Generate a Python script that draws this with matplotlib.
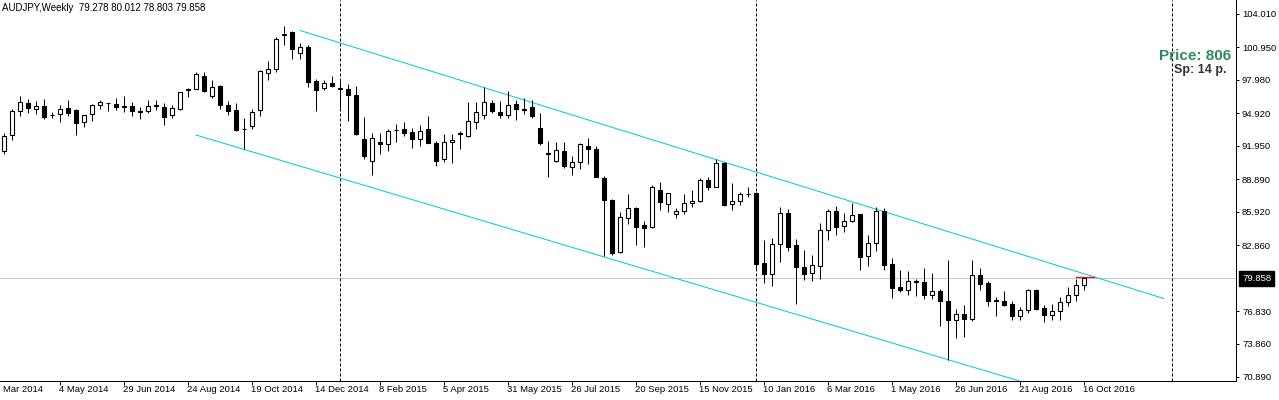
import numpy as np
import matplotlib
matplotlib.use("Agg")
import matplotlib.pyplot as plt
import matplotlib.transforms as mtransforms

plt.rcParams['font.family'] = ['Liberation Sans', 'DejaVu Sans']

# weekly AUDJPY candles, first visible bar = week of 16 Mar 2014
opens = [91.49, 92.97, 95.11, 95.84, 95.35, 95.56, 94.74, 94.84, 95.38, 95.23,
         94.11, 94.84, 95.66, 95.87, 95.75, 95.56, 95.56, 95.14, 95.14, 95.66,
         95.47, 94.74, 95.29, 97.05, 97.12, 98.31, 96.53, 97.42, 95.66, 95.23,
         93.47, 93.80, 95.20, 98.58, 99.00, 102.08, 102.35, 100.46, 100.98, 97.88,
         97.26, 97.67, 97.21, 97.12, 96.57, 92.55, 90.60, 92.31, 92.10, 93.37,
         93.49, 93.22, 92.55, 93.49, 92.22, 90.72, 92.28, 93.10, 92.88, 94.11,
         94.74, 95.84, 95.02, 94.74, 95.78, 95.29, 95.50, 93.58, 91.27, 90.60,
         91.49, 89.99, 90.51, 91.98, 91.67, 88.99, 87.01, 82.23, 85.34, 86.28,
         84.70, 84.54, 87.92, 86.62, 85.70, 85.98, 86.71, 86.89, 88.81, 88.22,
         90.39, 86.62, 86.89, 87.58, 87.65, 81.23, 80.22, 82.96, 85.82, 82.87,
         80.89, 80.31, 81.01, 84.24, 85.98, 84.61, 85.06, 85.73, 81.86, 83.05,
         86.00, 81.14, 79.06, 78.76, 79.58, 79.49, 78.36, 78.67, 77.76, 76.02,
         76.57, 76.11, 80.13, 79.40, 77.85, 77.76, 77.48, 76.44, 76.94, 78.79,
         77.15, 76.53, 76.84, 77.67, 78.30, 79.278]
highs = [93.15, 95.29, 96.51, 96.23, 96.05, 96.23, 95.04, 95.66, 96.14, 95.29,
         94.76, 95.78, 96.14, 95.90, 96.30, 96.48, 95.96, 95.47, 96.14, 96.14,
         95.84, 95.68, 96.86, 97.24, 98.70, 98.70, 97.97, 97.51, 96.05, 95.87,
         94.50, 95.32, 98.88, 99.70, 101.92, 102.87, 102.44, 101.37, 101.14, 98.03,
         97.97, 98.33, 97.85, 97.60, 97.39, 94.59, 93.13, 93.13, 93.49, 93.95,
         94.13, 93.58, 93.86, 94.68, 92.40, 93.04, 93.04, 93.31, 95.96, 95.96,
         97.33, 96.14, 96.05, 96.96, 96.14, 96.32, 96.14, 94.95, 92.42, 92.33,
         92.31, 91.03, 92.24, 92.64, 91.91, 89.17, 87.13, 85.89, 87.56, 86.34,
         85.09, 88.41, 88.68, 87.68, 86.28, 87.53, 87.92, 88.99, 89.08, 90.75,
         90.48, 88.53, 87.74, 88.17, 87.71, 83.36, 83.51, 86.37, 86.19, 83.45,
         82.44, 81.99, 84.94, 86.19, 86.43, 85.79, 86.76, 85.75, 83.78, 86.37,
         86.28, 81.71, 80.59, 80.50, 79.77, 80.80, 80.34, 78.85, 81.53, 77.05,
         77.39, 81.53, 80.77, 79.58, 78.15, 78.70, 77.76, 77.24, 78.88, 78.88,
         77.39, 77.48, 78.15, 79.06, 79.79, 80.012]
lows = [91.21, 92.49, 94.71, 94.98, 94.86, 94.43, 94.50, 94.16, 94.71, 92.97,
        93.65, 94.25, 95.35, 95.16, 95.23, 95.07, 94.71, 94.38, 94.92, 95.26,
        93.88, 94.50, 95.23, 96.44, 97.10, 96.90, 96.35, 95.32, 94.77, 93.34,
        91.64, 93.52, 94.71, 97.99, 98.72, 101.19, 99.89, 99.89, 97.36, 95.16,
        97.05, 97.30, 95.44, 94.25, 92.97, 90.75, 89.32, 91.24, 91.51, 92.33,
        92.88, 91.76, 91.97, 92.22, 90.14, 90.50, 90.41, 91.69, 92.79, 93.52,
        94.43, 94.92, 94.52, 94.52, 94.34, 94.89, 94.52, 92.06, 89.14, 90.50,
        89.90, 89.32, 89.87, 90.32, 89.12, 81.89, 82.01, 82.17, 84.84, 82.90,
        82.74, 84.48, 86.10, 85.94, 85.36, 85.76, 86.40, 86.87, 87.92, 88.17,
        86.46, 86.12, 86.58, 87.28, 80.68, 79.46, 79.18, 81.37, 82.38, 77.54,
        79.73, 79.58, 79.77, 83.33, 83.84, 84.09, 84.97, 80.64, 80.98, 82.38,
        80.64, 78.09, 78.58, 78.33, 78.27, 77.99, 77.99, 75.53, 72.37, 74.43,
        74.52, 75.93, 78.82, 77.35, 76.44, 77.30, 76.02, 76.08, 76.66, 76.96,
        75.85, 76.08, 76.08, 77.30, 77.76, 78.803]
closes = [92.86, 95.14, 95.93, 95.44, 95.56, 94.62, 94.76, 95.32, 94.98, 94.07,
          94.74, 95.66, 95.93, 95.84, 95.53, 95.47, 95.11, 95.07, 95.62, 95.56,
          94.62, 95.38, 96.84, 97.12, 98.49, 96.99, 97.30, 95.71, 95.16, 93.43,
          93.49, 95.02, 98.79, 98.94, 101.68, 102.14, 100.83, 100.98, 97.81, 97.08,
          97.67, 97.45, 97.14, 96.60, 93.04, 91.05, 92.64, 92.10, 93.31, 93.39,
          93.15, 92.61, 93.31, 92.24, 90.60, 92.31, 92.46, 93.04, 94.20, 95.02,
          95.93, 95.16, 94.80, 95.68, 95.35, 95.27, 94.71, 92.24, 91.24, 91.58,
          90.14, 90.48, 92.12, 91.69, 89.14, 87.04, 82.17, 85.43, 86.25, 84.57,
          84.48, 88.17, 86.80, 87.62, 85.98, 86.71, 86.89, 88.81, 88.22, 90.39,
          86.55, 86.89, 87.56, 87.60, 81.19, 80.22, 82.96, 85.82, 82.74, 80.86,
          80.28, 81.05, 84.24, 85.98, 84.57, 85.06, 85.67, 81.83, 83.05, 86.00,
          81.10, 79.00, 78.76, 79.58, 79.55, 78.36, 78.67, 77.76, 76.02, 76.57,
          76.11, 80.13, 79.37, 77.81, 77.76, 77.45, 76.44, 76.94, 78.79, 77.05,
          76.53, 76.84, 77.67, 78.30, 79.21, 79.858]

# bar index of each date label (8 week steps, first one partly off screen)
date_labels = ["9 Mar 2014", "4 May 2014", "29 Jun 2014", "24 Aug 2014", "19 Oct 2014",
               "14 Dec 2014", "8 Feb 2015", "5 Apr 2015", "31 May 2015", "26 Jul 2015",
               "20 Sep 2015", "15 Nov 2015", "10 Jan 2016", "6 Mar 2016", "1 May 2016",
               "26 Jun 2016", "21 Aug 2016", "16 Oct 2016"]
date_pos = [-1, 7, 15, 23, 31, 39, 47, 55, 63, 71, 79, 87, 95, 103, 111, 119, 127, 135]
year_bars = [42, 94, 146]

price_ticks = [104.010, 100.950, 97.980, 94.920, 91.950, 88.890, 85.920, 82.860,
               76.830, 73.860, 70.890]
bid = 79.858

upper_x, upper_y = [37, 145], [102.49, 78.01]
lower_x, lower_y = [24, 145], [92.94, 66.54]

px = 72 / 100.0  # one pixel in points

fig = plt.figure(figsize=(12.79, 4.0), dpi=100)
ax = fig.add_axes([0, 19 / 400, 1236 / 1279, 381 / 400])

x = np.arange(len(opens))
o = np.array(opens); c = np.array(closes)
h = np.array(highs); l = np.array(lows)

ax.axhline(bid, color='#c8c8c8', lw=px, zorder=1)
for yb in year_bars:
    ax.axvline(yb, color='black', lw=px, ls=(0, (3, 2)), zorder=1)

ax.plot(upper_x, upper_y, color='#00CED1', lw=px, zorder=2)
ax.plot(lower_x, lower_y, color='#00CED1', lw=px, zorder=2)

ax.vlines(x, l, h, color='black', lw=px, zorder=3)
bull = c > o
body_low = np.minimum(o, c)
body_h = np.maximum(np.abs(c - o), 0.005)
ax.bar(x, body_h, bottom=body_low, width=0.55,
       color=np.where(bull, 'white', 'black'), edgecolor='black',
       linewidth=1.1 * px, zorder=4)

ax.plot([x[-1] - 1, x[-1] + 1.25], [h[-1], h[-1]], color='red', lw=1.2 * px, zorder=5)

ax.set_xlim(-0.5, 154.0)
ax.set_ylim(70.48, 105.273)

for s in ['top', 'left']:
    ax.spines[s].set_visible(False)
for s in ['bottom', 'right']:
    ax.spines[s].set_linewidth(px)

ax.yaxis.tick_right()
ax.set_yticks(price_ticks)
ax.set_yticklabels(['%.3f' % t for t in price_ticks])
ax.tick_params(axis='y', length=3 * px, width=px, pad=3 * px, labelsize=6.8)
ax.set_xticks(date_pos[1:])
ax.set_xticklabels([])
ax.tick_params(axis='x', length=4 * px, width=px)

trans = ax.get_xaxis_transform()
for pos, lab in zip(date_pos, date_labels):
    ax.text(pos - 0.15, -9 / 381, lab, transform=trans, ha='left', va='center',
            fontsize=6.8, clip_on=False)

ytrans = mtransforms.blended_transform_factory(ax.transAxes, ax.transData)
ax.text(1242 / 1236, bid, '%.3f' % bid, transform=ytrans, ha='left', va='center',
        fontsize=6.8, color='white', clip_on=False,
        bbox=dict(boxstyle='square,pad=0.3', fc='black', ec='black'))

fig.text(2 / 1279, 1 - 8 / 400,
         'AUDJPY,Weekly  %.3f %.3f %.3f %.3f' % (opens[-1], highs[-1], lows[-1], closes[-1]),
         ha='left', va='center', fontsize=7)
fig.text(1231 / 1279, 1 - 56 / 400, 'Price: 806', ha='right', va='center',
         fontsize=11, fontweight='bold', color='#2E8B57')
fig.text(1227 / 1279, 1 - 70.5 / 400, 'Sp: 14 p.', ha='right', va='center',
         fontsize=9, fontweight='bold', color='#333333')

fig.savefig('out.png', dpi=100)
